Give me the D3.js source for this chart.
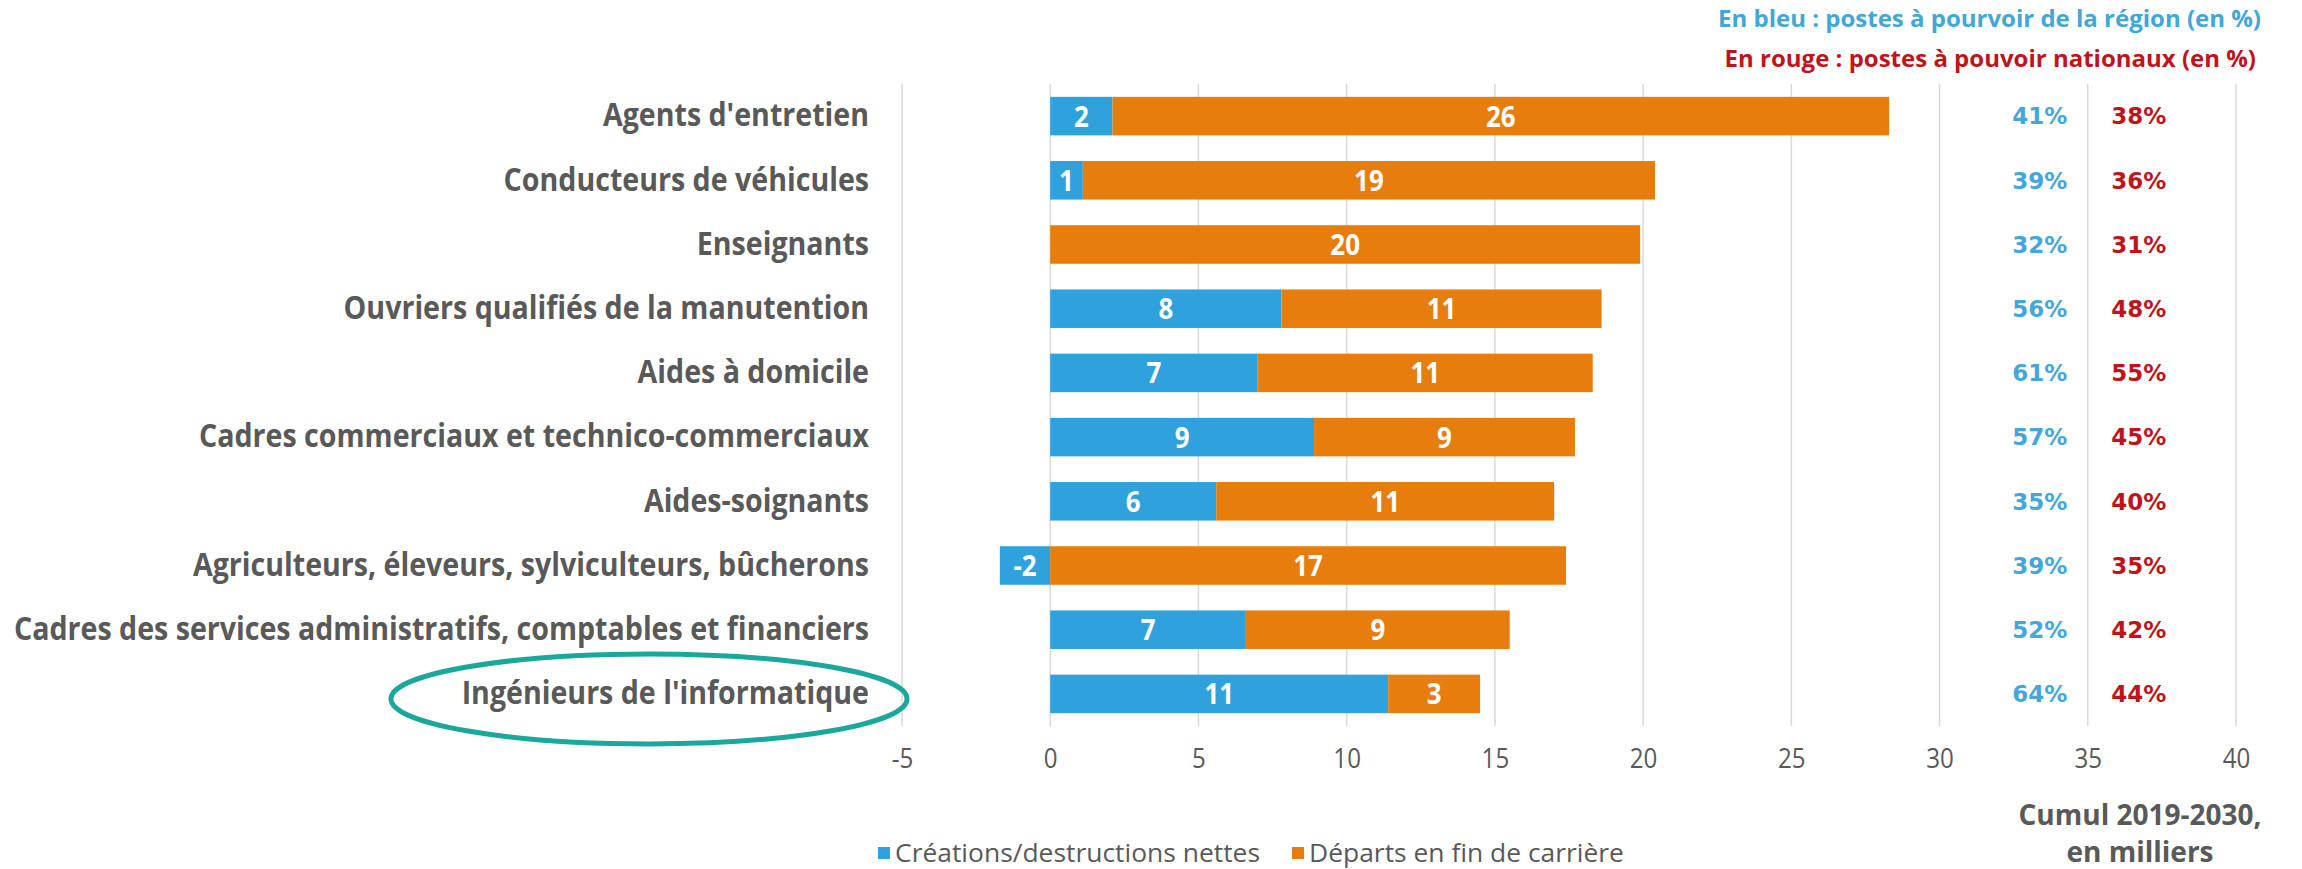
<!DOCTYPE html>
<html>
<head>
<meta charset="utf-8">
<script src="https://cdn.jsdelivr.net/npm/d3@7"></script>
<style>
  html, body { margin: 0; padding: 0; background: #fff; }
  svg text { font-family: "Open Sans", sans-serif; }
</style>
</head>
<body>
<svg id="chart" width="2302" height="869"></svg>
<script>
const categories = [
  "Agents d'entretien",
  'Conducteurs de véhicules',
  'Enseignants',
  'Ouvriers qualifiés de la manutention',
  'Aides à domicile',
  'Cadres commerciaux et technico-commerciaux',
  'Aides-soignants',
  'Agriculteurs, éleveurs, sylviculteurs, bûcherons',
  'Cadres des services administratifs, comptables et financiers',
  "Ingénieurs de l'informatique",
]
// cumul 2019-2030, en milliers
const creations = [2.1, 1.1, 0, 7.8, 7.0, 8.9, 5.6, -1.7, 6.6, 11.4]
const departs = [26.2, 19.3, 19.9, 10.8, 11.3, 8.8, 11.4, 17.4, 8.9, 3.1]
const pctRegion = [41, 39, 32, 56, 61, 57, 35, 39, 52, 64]
const pctNational = [38, 36, 31, 48, 55, 45, 40, 35, 42, 44]
const xTicks = [-5, 0, 5, 10, 15, 20, 25, 30, 35, 40]
const highlighted = "Ingénieurs de l'informatique"

const BLUE = '#2fa2de'
const ORANGE = '#e77d0c'
const GREY = '#595959'

const fmt = d3.formatLocale({ decimal: '.', thousands: ' ', grouping: [3], currency: ['', ''], minus: '-' }).format('.0f')

// squeeze a text horizontally, calibri is a lot narrower than open sans
const condense = (sel, k) =>
  sel.each(function() {
    const w = this.getComputedTextLength()
    d3.select(this).attr('textLength', w * k).attr('lengthAdjust', 'spacingAndGlyphs')
  })

const svg = d3.select('#chart')

const x = d3.scaleLinear().domain([-5, 40]).range([902, 2236])
const y = d3
  .scaleBand()
  .domain(categories)
  .range([84, 726])
  .paddingInner(0.4)
  .paddingOuter(0.2)

// grid
svg
  .append('g')
  .selectAll('line')
  .data(xTicks)
  .join('line')
  .attr('x1', (d) => x(d))
  .attr('x2', (d) => x(d))
  .attr('y1', 84)
  .attr('y2', 726)
  .attr('stroke', '#d9d9d9')
  .attr('stroke-width', 1.5)

// category labels
const yAxis = svg
  .append('g')
  .attr('transform', 'translate(869,0)')
  .call(d3.axisLeft(y).tickSize(0).tickPadding(0))
yAxis.select('.domain').remove()
const catLabels = yAxis
  .selectAll('text')
  .attr('fill', GREY)
  .style('font-size', '32px')
  .style('font-weight', 'bold')
const widest = d3.max(catLabels.nodes(), (n) => n.getComputedTextLength())
const K = 855 / widest
catLabels.call(condense, K)

// x axis labels (no domain line, no ticks)
const xAxis = svg
  .append('g')
  .attr('transform', 'translate(0,749)')
  .call(d3.axisBottom(x).tickValues(xTicks).tickSize(0).tickPadding(0).tickFormat(fmt))
xAxis.select('.domain').remove()
xAxis
  .selectAll('text')
  .attr('fill', GREY)
  .style('font-size', '27px')
  .attr('dy', '0.71em')
  .call(condense, K)

const rows = categories.map((c, i) => ({
  cat: c,
  blue: creations[i],
  orange: departs[i],
  pr: pctRegion[i],
  pn: pctNational[i],
}))

const bars = svg.append('g')

bars
  .selectAll('rect.blue')
  .data(rows)
  .join('rect')
  .attr('class', 'blue')
  .attr('x', (d) => x(Math.min(0, d.blue)))
  .attr('width', (d) => Math.abs(x(d.blue) - x(0)))
  .attr('y', (d) => y(d.cat))
  .attr('height', y.bandwidth())
  .attr('fill', BLUE)

bars
  .selectAll('rect.orange')
  .data(rows)
  .join('rect')
  .attr('class', 'orange')
  .attr('x', (d) => x(Math.max(0, d.blue)))
  .attr('width', (d) => x(d.orange) - x(0))
  .attr('y', (d) => y(d.cat))
  .attr('height', y.bandwidth())
  .attr('fill', ORANGE)

const labelStyle = (sel) =>
  sel
    .attr('fill', '#fff')
    .attr('text-anchor', 'middle')
    .attr('dy', '0.36em')
    .style('font-size', '29px')
    .style('font-weight', 'bold')
    .call(condense, K)

bars
  .selectAll('text.blue')
  .data(rows.filter((d) => Math.abs(d.blue) >= 0.5))
  .join('text')
  .attr('class', 'blue')
  .attr('x', (d) => x(d.blue / 2))
  .attr('y', (d) => y(d.cat) + y.bandwidth() / 2)
  .text((d) => fmt(d.blue))
  .call(labelStyle)

bars
  .selectAll('text.orange')
  .data(rows)
  .join('text')
  .attr('class', 'orange')
  .attr('x', (d) => x(Math.max(0, d.blue) + d.orange / 2))
  .attr('y', (d) => y(d.cat) + y.bandwidth() / 2)
  .text((d) => fmt(d.orange))
  .call(labelStyle)

// percentage columns
const pct = svg.append('g').style('font-size', '23px').style('font-weight', 'bold')
pct
  .selectAll('text.pr')
  .data(rows)
  .join('text')
  .attr('x', x(35) - 48)
  .attr('y', (d) => y(d.cat) + y.bandwidth() / 2)
  .attr('dy', '0.36em')
  .attr('text-anchor', 'middle')
  .attr('fill', '#44a6da')
  .style('font-family', 'DejaVu Sans')
  .text((d) => d.pr + '%')
pct
  .selectAll('text.pn')
  .data(rows)
  .join('text')
  .attr('x', x(35) + 51)
  .attr('y', (d) => y(d.cat) + y.bandwidth() / 2)
  .attr('dy', '0.36em')
  .attr('text-anchor', 'middle')
  .attr('fill', '#c0141c')
  .style('font-family', 'DejaVu Sans')
  .text((d) => d.pn + '%')

// header notes
svg
  .append('text')
  .attr('x', 2261)
  .attr('y', 27)
  .attr('text-anchor', 'end')
  .attr('fill', '#3fa7d9')
  .style('font-size', '24px')
  .style('font-weight', 'bold')
  .text('En bleu : postes à pourvoir de la région (en %)')
svg
  .append('text')
  .attr('x', 2256)
  .attr('y', 67)
  .attr('text-anchor', 'end')
  .attr('fill', '#c0141c')
  .style('font-size', '24px')
  .style('font-weight', 'bold')
  .text('En rouge : postes à pouvoir nationaux (en %)')

// unit note
const unit = svg
  .append('text')
  .attr('text-anchor', 'middle')
  .attr('fill', GREY)
  .style('font-size', '28px')
  .style('font-weight', 'bold')
unit.append('tspan').attr('x', 2140).attr('y', 825).text('Cumul 2019-2030,')
unit.append('tspan').attr('x', 2140).attr('y', 862).text('en milliers')

// legend
const legendItems = [
  { label: 'Créations/destructions nettes', color: BLUE, x: 878 },
  { label: 'Départs en fin de carrière', color: ORANGE, x: 1292 },
]
const legend = svg
  .append('g')
  .selectAll('g')
  .data(legendItems)
  .join('g')
  .attr('transform', (d) => `translate(${d.x},853)`)
legend
  .append('rect')
  .attr('x', 0)
  .attr('y', -6)
  .attr('width', 12)
  .attr('height', 12)
  .attr('fill', (d) => d.color)
const legendText = legend
  .append('text')
  .attr('x', 17)
  .attr('dy', '0.36em')
  .attr('fill', GREY)
  .style('font-size', '26px')
  .text((d) => d.label)
legendText.call(condense, 365 / legendText.node().getComputedTextLength())

// highlight ring
svg
  .append('ellipse')
  .attr('cx', 649)
  .attr('cy', y(highlighted) + y.bandwidth() / 2 + 5)
  .attr('rx', 258)
  .attr('ry', 45)
  .attr('fill', 'none')
  .attr('stroke', '#1aa89c')
  .attr('stroke-width', 5)
</script>
</body>
</html>
